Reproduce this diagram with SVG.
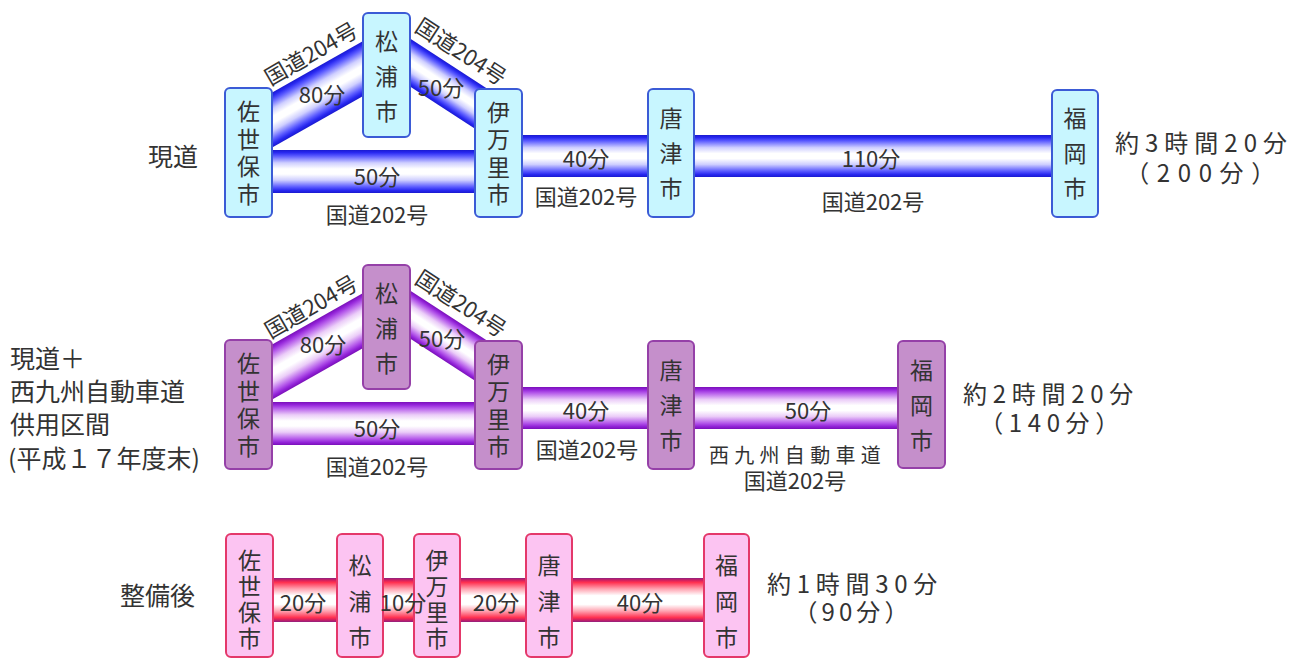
<svg xmlns="http://www.w3.org/2000/svg" width="1303" height="660" viewBox="0 0 1303 660">
<style>
text{font-family:"Noto Sans CJK JP","Noto Sans CJK SC",sans-serif;fill:#333;text-anchor:middle;dominant-baseline:central}
.v4{font-size:23px;writing-mode:vertical-rl;letter-spacing:4.5px}
.v3{font-size:23px;writing-mode:vertical-rl;letter-spacing:12px}
.v4s{font-size:23px;writing-mode:vertical-rl;letter-spacing:3px}
.v3s{font-size:23px;writing-mode:vertical-rl;letter-spacing:13px}
.lb{font-size:22px}
.dl{font-size:22px}
.tt{font-size:24px}
.side{font-size:25px;text-anchor:start}
.b1{fill:#c8f6ff;stroke:#3b5bd6;stroke-width:2}
.b2{fill:#c58fcb;stroke:#9540a8;stroke-width:2}
.b3{fill:#fcc4f2;stroke:#e4386a;stroke-width:2}
</style>
<defs>
<linearGradient id="gBlue" x1="0" y1="0" x2="0" y2="1">
<stop offset="0" stop-color="#1a1ad0"/><stop offset="0.06" stop-color="#2828f0"/><stop offset="0.14" stop-color="#5a5aff"/><stop offset="0.3" stop-color="#cfcfff"/><stop offset="0.44" stop-color="#ffffff"/><stop offset="0.56" stop-color="#ffffff"/><stop offset="0.7" stop-color="#cfcfff"/><stop offset="0.86" stop-color="#5a5aff"/><stop offset="0.94" stop-color="#2828f0"/><stop offset="1" stop-color="#1a1ad0"/>
</linearGradient>
<linearGradient id="gPurp" x1="0" y1="0" x2="0" y2="1">
<stop offset="0" stop-color="#7a10b8"/><stop offset="0.06" stop-color="#9222d8"/><stop offset="0.14" stop-color="#b458ea"/><stop offset="0.3" stop-color="#ebcdf8"/><stop offset="0.44" stop-color="#ffffff"/><stop offset="0.56" stop-color="#ffffff"/><stop offset="0.7" stop-color="#ebcdf8"/><stop offset="0.86" stop-color="#b458ea"/><stop offset="0.94" stop-color="#9222d8"/><stop offset="1" stop-color="#7a10b8"/>
</linearGradient>
<linearGradient id="gRed" x1="0" y1="0" x2="0" y2="1">
<stop offset="0" stop-color="#902080"/><stop offset="0.05" stop-color="#d02060"/><stop offset="0.1" stop-color="#ff3050"/><stop offset="0.25" stop-color="#ffa4b2"/><stop offset="0.4" stop-color="#ffffff"/><stop offset="0.6" stop-color="#ffffff"/><stop offset="0.75" stop-color="#ffa4b2"/><stop offset="0.9" stop-color="#ff3050"/><stop offset="0.95" stop-color="#d02060"/><stop offset="1" stop-color="#902080"/>
</linearGradient>
<linearGradient id="gB1" href="#gBlue" gradientUnits="userSpaceOnUse" x1="305.2" y1="73.8" x2="328.8" y2="115.4"/>
<linearGradient id="gB2" href="#gBlue" gradientUnits="userSpaceOnUse" x1="456" y1="68.4" x2="434" y2="102.1"/>
<linearGradient id="gP1" href="#gPurp" gradientUnits="userSpaceOnUse" x1="305.2" y1="325.8" x2="328.8" y2="367.4"/>
<linearGradient id="gP2" href="#gPurp" gradientUnits="userSpaceOnUse" x1="456" y1="320.4" x2="434" y2="354.1"/>
</defs>

<g id="connectors">
<polygon points="262,98.2 372,36.1 372,91.1 262,153.2" fill="url(#gB1)"/>
<polygon points="400,32 490,90.5 490,138.5 400,80" fill="url(#gB2)"/>
<rect x="265" y="150" width="215" height="43" fill="url(#gBlue)"/>
<rect x="515" y="135" width="545" height="42" fill="url(#gBlue)"/>

<polygon points="262,350.2 372,288.1 372,343.1 262,405.2" fill="url(#gP1)"/>
<polygon points="400,284 490,342.5 490,390.5 400,332" fill="url(#gP2)"/>
<rect x="265" y="402" width="215" height="43" fill="url(#gPurp)"/>
<rect x="515" y="387" width="390" height="42" fill="url(#gPurp)"/>

<rect x="265" y="578" width="445" height="44" fill="url(#gRed)"/>
</g>

<g id="r1-sasebo"><rect class="b1" x="225" y="88" width="47" height="129" rx="5"/>
<text class="v4" x="248.5" y="155">佐世保市</text></g>
<g id="r1-matsuura"><rect class="b1" x="363" y="13" width="47" height="124" rx="5"/>
<text class="v3" x="386.5" y="82">松浦市</text></g>
<g id="r1-imari"><rect class="b1" x="475" y="89" width="47" height="128" rx="5"/>
<text class="v4" x="498.5" y="155.5">伊万里市</text></g>
<g id="r1-karatsu"><rect class="b1" x="648" y="89" width="46" height="128" rx="5"/>
<text class="v3" x="671" y="159">唐津市</text></g>
<g id="r1-fukuoka"><rect class="b1" x="1052" y="90" width="46" height="127" rx="5"/>
<text class="v3" x="1075" y="159">福岡市</text></g>

<g id="r2-sasebo"><rect class="b2" x="225" y="340" width="47" height="129" rx="5"/>
<text class="v4" x="248.5" y="407">佐世保市</text></g>
<g id="r2-matsuura"><rect class="b2" x="363" y="265" width="47" height="124" rx="5"/>
<text class="v3" x="386.5" y="334">松浦市</text></g>
<g id="r2-imari"><rect class="b2" x="475" y="341" width="47" height="128" rx="5"/>
<text class="v4" x="498.5" y="407.5">伊万里市</text></g>
<g id="r2-karatsu"><rect class="b2" x="648" y="341" width="46" height="128" rx="5"/>
<text class="v3" x="671" y="411">唐津市</text></g>
<g id="r2-fukuoka"><rect class="b2" x="898" y="341" width="47" height="127" rx="5"/>
<text class="v3" x="921.5" y="411">福岡市</text></g>

<g id="r3-sasebo"><rect class="b3" x="226" y="534" width="47" height="123" rx="5"/>
<text class="v4s" x="249.5" y="600.5">佐世保市</text></g>
<g id="r3-matsuura"><rect class="b3" x="337" y="534" width="46" height="123" rx="5"/>
<text class="v3s" x="360" y="607.5">松浦市</text></g>
<g id="r3-imari"><rect class="b3" x="414" y="534" width="46" height="123" rx="5"/>
<text class="v4s" x="437" y="600.5">伊万里市</text></g>
<g id="r3-karatsu"><rect class="b3" x="526" y="534" width="46" height="123" rx="5"/>
<text class="v3s" x="549" y="607.5">唐津市</text></g>
<g id="r3-fukuoka"><rect class="b3" x="704" y="534" width="45" height="123" rx="5"/>
<text class="v3s" x="726.5" y="607.5">福岡市</text></g>

<g id="labels">
<text class="side" x="148" y="155">現道</text>
<text class="dl" transform="translate(310,52) rotate(-30)">国道204号</text>
<text class="lb" x="322" y="93">80分</text>
<text class="lb" x="441" y="86">50分</text>
<text class="dl" transform="translate(462,50) rotate(33)">国道204号</text>
<text class="lb" x="377" y="175">50分</text>
<text class="lb" x="377" y="213">国道202号</text>
<text class="lb" x="586" y="157">40分</text>
<text class="lb" x="586" y="195">国道202号</text>
<text class="lb" x="871" y="157">110分</text>
<text class="lb" x="873" y="200">国道202号</text>
<text class="tt"><tspan x="1204" y="141" style="letter-spacing:6px">約3時間20分</tspan><tspan x="1204" y="171" style="letter-spacing:7.6px">（200分）</tspan></text>

<text class="side" x="10" y="357">現道＋</text>
<text class="side" x="10" y="390">西九州自動車道</text>
<text class="side" x="10" y="423">供用区間</text>
<text class="side" x="8" y="457">(平成１７年度末)</text>
<text class="dl" transform="translate(310,305) rotate(-30)">国道204号</text>
<text class="lb" x="323" y="343">80分</text>
<text class="lb" x="442" y="337">50分</text>
<text class="dl" transform="translate(462,302) rotate(33)">国道204号</text>
<text class="lb" x="377" y="427">50分</text>
<text class="lb" x="377" y="465">国道202号</text>
<text class="lb" x="586" y="409">40分</text>
<text class="lb" x="587" y="448">国道202号</text>
<text class="lb" x="808" y="409">50分</text>
<text class="lb"><tspan x="797.5" y="454" style="font-size:20px;letter-spacing:5.3px">西九州自動車道</tspan><tspan x="795" y="479">国道202号</tspan></text>
<text class="tt"><tspan x="1051" y="392" style="letter-spacing:5.7px">約2時間20分</tspan><tspan x="1052" y="421" style="letter-spacing:5.6px">（140分）</tspan></text>

<text class="side" x="120" y="594">整備後</text>
<text class="lb" x="303" y="601">20分</text>
<text class="lb" x="403" y="601">10分</text>
<text class="lb" x="496" y="601">20分</text>
<text class="lb" x="640" y="601">40分</text>
<text class="tt"><tspan x="855" y="582" style="letter-spacing:5.7px">約1時間30分</tspan><tspan x="853" y="610" style="letter-spacing:4.1px">（90分）</tspan></text>
</g>
</svg>
